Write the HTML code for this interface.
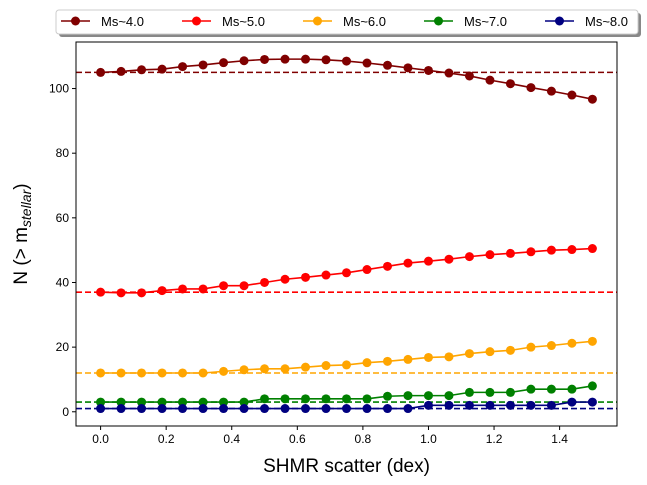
<!DOCTYPE html>
<html><head><meta charset="utf-8"><style>
html,body{margin:0;padding:0;background:#fff;}
svg{display:block;font-family:"Liberation Sans","DejaVu Sans",sans-serif;}
</style></head><body>
<svg id="chart" width="647" height="485" viewBox="0 0 647 485"></svg>
<script>
const xValues=[0,0.0625,0.125,0.1875,0.25,0.3125,0.375,0.4375,0.5,0.5625,0.625,0.6875,0.75,0.8125,0.875,0.9375,1.0,1.0625,1.125,1.1875,1.25,1.3125,1.375,1.4375,1.5];
const seriesNames=["Ms~4.0","Ms~5.0","Ms~6.0","Ms~7.0","Ms~8.0"];
const seriesColors=["#800000","#ff0000","#ffa500","#008000","#000080"];
const refLines=[105,37,12,3,1];
const s4=[105,105.3,105.8,106,106.8,107.3,108,108.6,109,109.1,109.1,108.9,108.5,107.9,107.2,106.4,105.6,104.8,103.9,102.6,101.5,100.3,99.2,98,96.7];
const s5=[37,36.8,36.8,37.5,38,38,39,39,40,41,41.6,42.3,43,44,45,46,46.6,47.2,48,48.6,49,49.5,50,50.2,50.5];
const s6=[12,12,12,12,12,12,12.5,13,13.3,13.3,13.8,14.3,14.5,15.2,15.6,16.2,16.8,17,18,18.6,19,20,20.5,21.2,21.8];
const s7=[3,3,3,3,3,3,3,3,4,4,4,4,4,4,4.8,5,5,5,6,6,6,7,7,7,8];
const s8=[1,1,1,1,1,1,1,1,1,1,1,1,1,1,1,1,2,2,2,2,2,2,2,3,3];
const xTicks=[0,0.2,0.4,0.6,0.8,1.0,1.2,1.4];
const yTicks=[0,20,40,60,80,100];
const allSeries=[s4,s5,s6,s7,s8];

const L=76,R=617,T=42,B=426;
const xMin=-0.075,xMax=1.575,yMin=-4.4,yMax=114.4;
const xs=v=>L+(v-xMin)/(xMax-xMin)*(R-L);
const ys=v=>B-(v-yMin)/(yMax-yMin)*(B-T);
const svg=document.getElementById('chart');
const NS='http://www.w3.org/2000/svg';
function mk(tag,attrs,parent){const e=document.createElementNS(NS,tag);for(const k in attrs)e.setAttribute(k,attrs[k]);(parent||svg).appendChild(e);return e;}

// ref lines
refLines.forEach((v,i)=>{
  const l=mk('line',{x1:L,x2:R,y1:ys(v),y2:ys(v),stroke:seriesColors[i],'stroke-width':1.6,'stroke-dasharray':'6,3'});
  
  
});
// series
allSeries.forEach((s,i)=>{
  const g=mk('g',{});
  
  
  mk('polyline',{points:s.map((v,j)=>xs(xValues[j])+','+ys(v)).join(' '),fill:'none',stroke:seriesColors[i],'stroke-width':1.6},g);
  s.forEach((v,j)=>{
    const c=mk('circle',{cx:xs(xValues[j]),cy:ys(v),r:4.5,fill:seriesColors[i]},g);
    
    
  });
});
// frame
const fr=mk('rect',{x:L,y:T,width:R-L,height:B-T,fill:'none',stroke:'#000','stroke-width':1});


// ticks
xTicks.forEach(t=>{
  mk('line',{x1:xs(t),x2:xs(t),y1:B,y2:B+4,stroke:'#000'});
  const tx=mk('text',{x:xs(t),y:B+17,'text-anchor':'middle','font-size':12});
  tx.textContent=t.toFixed(1);
  
  
});
yTicks.forEach(t=>{
  mk('line',{x1:L-4,x2:L,y1:ys(t),y2:ys(t),stroke:'#000'});
  const tx=mk('text',{x:L-7,y:ys(t)+4,'text-anchor':'end','font-size':12});
  tx.textContent=t;
  
  
});
// axis titles
const xt=mk('text',{x:(L+R)/2,y:472,'text-anchor':'middle','font-size':19});
xt.textContent='SHMR scatter (dex)';


const yt=mk('text',{transform:'translate(27,'+((T+B)/2)+') rotate(-90)','text-anchor':'middle','font-size':19});
yt.innerHTML='N (&gt; m<tspan font-style="italic" font-size="14" dy="4">stellar</tspan><tspan dy="-4">)</tspan>';


// legend
const lg=mk('g',{});


mk('rect',{x:59,y:13,width:582,height:24,rx:3,fill:'#888'},lg);
mk('rect',{x:56,y:10,width:582,height:24,rx:3,fill:'#fff',stroke:'#ccc'},lg);
seriesNames.forEach((n,i)=>{
  const e=mk('g',{},lg);
  
  
  const x0=61+i*121;
  mk('line',{x1:x0,x2:x0+29,y1:21,y2:21,stroke:seriesColors[i],'stroke-width':1.6},e);
  mk('circle',{cx:x0+14.5,cy:21,r:4.5,fill:seriesColors[i]},e);
  const t=mk('text',{x:x0+40,y:26,'font-size':13},e);
  t.textContent=n;
});
</script>
</body></html>
